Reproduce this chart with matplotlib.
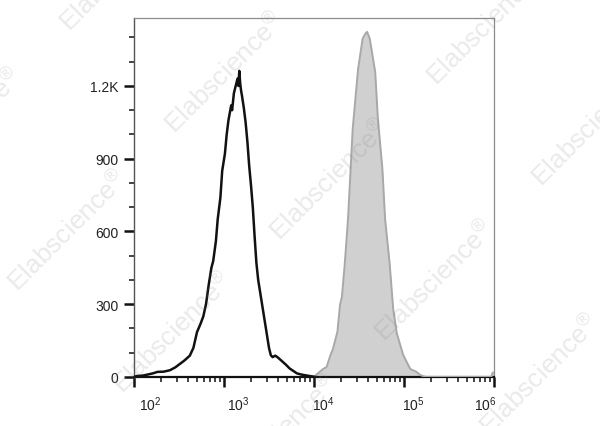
import numpy as np
import matplotlib
matplotlib.use("Agg")
import matplotlib.pyplot as plt
from matplotlib.ticker import FixedLocator, NullFormatter
from matplotlib.transforms import ScaledTranslation

plt.rcParams['font.family'] = ['Liberation Sans', 'DejaVu Sans']
plt.rcParams['mathtext.fontset'] = 'custom'
plt.rcParams['mathtext.rm'] = 'Liberation Sans'
plt.rcParams['mathtext.it'] = 'Liberation Sans'

# ---- data (log10 fluorescence intensity, event count) ----
ctrl_log = [2.00, 2.03, 2.10, 2.15, 2.21, 2.26, 2.33, 2.40, 2.46, 2.51, 2.56, 2.62,
            2.66, 2.70, 2.74, 2.77, 2.80, 2.83, 2.86, 2.88, 2.91, 2.93, 2.96, 2.98,
            3.01, 3.03, 3.05, 3.07, 3.08, 3.09, 3.11, 3.13, 3.15, 3.16, 3.17, 3.18,
            3.19, 3.20, 3.22, 3.24, 3.26, 3.28, 3.30, 3.32, 3.34, 3.36, 3.38, 3.41,
            3.44, 3.47, 3.50, 3.52, 3.54, 3.57, 3.60, 3.63, 3.66, 3.69, 3.73, 3.77,
            3.81, 3.86, 3.92, 3.97, 4.02]
ctrl_cnt = [0, 4, 6, 10, 15, 21, 22, 28, 40, 54, 68, 88,
            120, 185, 220, 250, 300, 380, 450, 478, 560, 650, 740, 850,
            920, 1000, 1060, 1100, 1120, 1100, 1170, 1200, 1230, 1200, 1262, 1210,
            1180, 1159, 1110, 1050, 970, 870, 790, 700, 580, 470, 400, 330,
            260, 190, 120, 90, 82, 88, 80, 70, 60, 50, 35, 25,
            15, 10, 6, 3, 0]

stain_log = [3.99, 4.01, 4.10, 4.14, 4.18, 4.21, 4.26, 4.29, 4.31, 4.34, 4.37, 4.38,
             4.43, 4.49, 4.54, 4.57, 4.59, 4.62, 4.68, 4.71, 4.76, 4.79, 4.84, 4.88,
             4.92, 4.99, 5.03, 5.07, 5.14, 5.18, 5.21, 5.24, 5.97, 5.985, 6.00]
stain_cnt = [0, 4, 33, 41, 87, 115, 186, 300, 330, 458, 610, 664,
             1023, 1270, 1394, 1415, 1423, 1394, 1258, 1064, 858, 651, 470, 280,
             180, 92, 62, 33, 21, 8, 4, 0, 0, 18, 18]

y_major = [0, 300, 600, 900, 1200]
y_labels = ['0', '300', '600', '900', '1.2K']
y_minor = [100, 200, 400, 500, 700, 800, 1000, 1100, 1300, 1400]
x_major = [1e2, 1e3, 1e4, 1e5, 1e6]
x_labels = [r'$10^{2}$', r'$10^{3}$', r'$10^{4}$', r'$10^{5}$', r'$10^{6}$']
x_label_shift_pt = [12.0, 10.5, 7.0, 7.0, -6.5]

W, H = 600, 427
fig = plt.figure(figsize=(6.0, 4.27), dpi=100)
ax = fig.add_axes([134 / W, 1 - 378 / H, 360 / W, 359 / H])

sx = 10 ** np.array(stain_log)
ax.fill_between(sx, 0, stain_cnt, color='#d0d0d0', lw=0, zorder=2)
ax.plot(sx, stain_cnt, color='#a8a8a8', lw=1.4, zorder=3)
ax.plot(10 ** np.array(ctrl_log), ctrl_cnt, color='#111111', lw=1.8, zorder=4)

ax.set_xscale('log')
ax.set_xlim(1e2, 1e6)
ax.set_ylim(0, 1480)

ax.yaxis.set_major_locator(FixedLocator(y_major))
ax.set_yticklabels(y_labels)
ax.yaxis.set_minor_locator(FixedLocator(y_minor))
ax.set_xticks(x_major)
ax.set_xticklabels(x_labels)
minor_x = [m * 10 ** d for d in range(2, 6) for m in range(2, 10)]
ax.xaxis.set_minor_locator(FixedLocator(minor_x))
ax.xaxis.set_minor_formatter(NullFormatter())

ax.tick_params(axis='both', which='major', direction='out', length=7.2, width=1.8,
               color='#111111', labelsize=10, labelcolor='#222222')
ax.tick_params(axis='y', which='major', pad=4)
ax.tick_params(axis='x', which='major', pad=5)
ax.tick_params(axis='both', which='minor', direction='out', length=3.8, width=1.1,
               color='#111111')

for lab, sh in zip(ax.get_xticklabels(), x_label_shift_pt):
    lab.set_transform(lab.get_transform() + ScaledTranslation(sh / 72, 0, fig.dpi_scale_trans))

for side in ['top', 'right']:
    ax.spines[side].set_color('#8c8c8c')
    ax.spines[side].set_linewidth(0.9)
ax.spines['left'].set_color('#555555')
ax.spines['left'].set_linewidth(1.0)
ax.spines['bottom'].set_color('#111111')
ax.spines['bottom'].set_linewidth(1.6)

# watermarks
wm_centers = [(120, -29), (225, 73), (330, 180), (435, 281), (540, 375),
              (-37, 129), (68, 231), (173, 333), (278, 436), (487, 25), (592, 126)]
for cx, cy in wm_centers:
    fig.text(cx / W, 1 - cy / H, r'Elabscience$^{\circledR}$', rotation=45,
             ha='center', va='center', fontsize=19, color='gray', alpha=0.17,
             zorder=10, rotation_mode='anchor')

fig.savefig('out.png', dpi=100)
